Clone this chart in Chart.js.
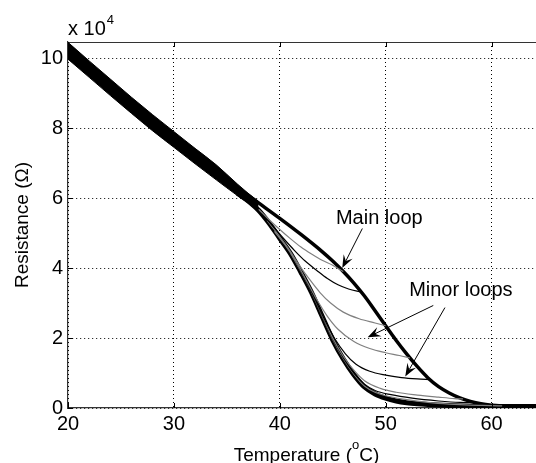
<!DOCTYPE html>
<html><head><meta charset="utf-8">
<script src="https://cdn.jsdelivr.net/npm/chart.js@4/dist/chart.umd.min.js"></script>
<style>html,body{margin:0;padding:0;background:#fff;overflow:hidden}</style>
</head><body>
<canvas id="c" width="536" height="463" style="width:536px;height:463px;display:block"></canvas>
<script>
// ---- tick labels ----
const xTicks = [20, 30, 40, 50, 60];
const yTicks = [0, 2, 4, 6, 8, 10];           // resistance in units of 10^4 ohm
const xRange = [20, 64.2];
const yRange = [0, 10.46];

// ---- common thick band (many overlapping loops), outer edges ----
const bandT      = [20, 22, 24, 26, 28, 30, 32, 34, 36, 37, 38];
const bandTopR   = [10.45, 9.92, 9.4, 8.88, 8.38, 7.9, 7.42, 6.95, 6.4, 6.14, 5.9];
const bandBotR   = [9.97, 9.45, 8.93, 8.42, 7.92, 7.45, 6.98, 6.52, 6.07, 5.86, 5.6];

// ---- main loop: upper (cooling) branch ----
const upperT = [36, 37, 38, 40, 42, 44, 45, 46, 47, 48, 49, 50, 51, 52, 53, 54, 55, 56, 57, 58, 59, 60, 61, 62, 63, 64.2];
const upperR = [6.3, 6.08, 5.86, 5.42, 4.96, 4.47, 4.2, 3.9, 3.57, 3.2, 2.78, 2.35, 1.93, 1.54, 1.18, 0.86, 0.61, 0.43, 0.29, 0.19, 0.12, 0.08, 0.06, 0.05, 0.04, 0.04];
// ---- main loop: lower (heating) branch ----
const lowerT = [36, 37, 38, 39, 40, 41, 42, 43, 44, 45, 46, 47, 48, 49, 50, 51, 52, 53, 54, 56, 58, 60, 62, 64.2];
const lowerR = [6.14, 5.92, 5.65, 5.28, 4.85, 4.42, 3.88, 3.3, 2.62, 1.95, 1.4, 0.95, 0.6, 0.4, 0.28, 0.2, 0.15, 0.12, 0.1, 0.07, 0.05, 0.04, 0.04, 0.04];

// ---- minor loops ----
const minorAT = [38, 39, 40, 41, 42, 43, 44, 45, 46];
const minorAR = [5.68, 5.38, 5.1, 4.84, 4.6, 4.4, 4.22, 4.08, 3.9];
const minorBT = [38.4, 39.4, 40.4, 41.4, 42.4, 43.5, 44.5, 45.5, 46.5, 47.7];
const minorBR = [5.52, 5.18, 4.83, 4.5, 4.2, 3.93, 3.7, 3.52, 3.4, 3.31];
const minorCT = [38.8, 39.8, 40.8, 41.8, 42.8, 43.8, 44.8, 46, 47.5, 49, 50];
const minorCR = [5.36, 4.98, 4.56, 4.1, 3.68, 3.3, 3.0, 2.74, 2.55, 2.43, 2.35];
const minorDT = [39.5, 40.5, 41.5, 42.5, 43.5, 44.5, 45.5, 47, 48.5, 50, 51.3, 52.3];
const minorDR = [5.05, 4.66, 4.2, 3.65, 3.1, 2.62, 2.25, 1.9, 1.7, 1.58, 1.5, 1.43];
const minorET = [40.2, 41.2, 42.2, 43.2, 44.2, 45.2, 46.2, 47.2, 48.5, 50, 51.5, 53, 54.2];
const minorER = [4.77, 4.36, 3.8, 3.2, 2.55, 1.98, 1.55, 1.25, 1.05, 0.94, 0.87, 0.83, 0.81];
const minorFT = [41, 42, 43, 44, 45, 46, 47, 48, 49.5, 51, 53, 55, 56.5, 57.3];
const minorFR = [4.44, 3.9, 3.32, 2.66, 2.0, 1.48, 1.08, 0.78, 0.56, 0.45, 0.37, 0.31, 0.27, 0.26];
const minorGT = [42, 43, 44, 45, 46, 47, 48, 49, 50.5, 52.5, 55, 57, 58.5];
const minorGR = [3.9, 3.32, 2.64, 1.98, 1.44, 1.0, 0.68, 0.5, 0.38, 0.28, 0.2, 0.16, 0.155];
const minorHT = [43, 44, 45, 46, 47, 48, 49, 50, 52, 54, 56, 58, 60, 61];
const minorHR = [3.31, 2.63, 1.96, 1.41, 0.97, 0.63, 0.45, 0.35, 0.24, 0.16, 0.11, 0.08, 0.07, 0.06];

// ---- annotation anchors (data coordinates) ----
const labelMain  = {text: 'Main loop',   T: 49.4, R: 5.41};
const labelMinor = {text: 'Minor loops', T: 57.1, R: 3.36};
const arrowMain  = {from: [47.8, 5.13], to: [45.9, 4.0]};
const arrowMinor1 = {from: [54.5, 2.93], to: [48.3, 2.02]};
const arrowMinor2 = {from: [55.6, 2.87], to: [51.85, 0.9]};

const pts = (T, R) => T.map((t, i) => ({x: t, y: R[i]}));
const GRAY = '#808080', BLACK = '#000000';
const FONT = '"Liberation Sans", Arial, Helvetica, sans-serif';

function thin(T, R, color) {
  return {data: pts(T, R), borderColor: color, borderWidth: 1.2, pointRadius: 0,
          fill: false, cubicInterpolationMode: 'monotone'};
}

const datasets = [
  {data: pts(bandT, bandTopR), borderColor: BLACK, backgroundColor: BLACK, borderWidth: 1,
   pointRadius: 0, fill: '+1', cubicInterpolationMode: 'monotone'},
  {data: pts(bandT, bandBotR), borderColor: BLACK, borderWidth: 1, pointRadius: 0,
   fill: false, cubicInterpolationMode: 'monotone'},
  thin(minorAT, minorAR, GRAY),
  thin(minorBT, minorBR, BLACK),
  thin(minorCT, minorCR, GRAY),
  thin(minorDT, minorDR, GRAY),
  thin(minorET, minorER, BLACK),
  thin(minorFT, minorFR, GRAY),
  thin(minorGT, minorGR, BLACK),
  thin(minorHT, minorHR, GRAY),
  {data: pts(upperT, upperR), borderColor: BLACK, borderWidth: 3.5, pointRadius: 0,
   fill: false, cubicInterpolationMode: 'monotone'},
  {data: pts(lowerT, lowerR), borderColor: BLACK, borderWidth: 5, pointRadius: 0,
   fill: false, cubicInterpolationMode: 'monotone'}
];

function drawArrow(ctx, x1, y1, x2, y2) {
  const ang = Math.atan2(y2 - y1, x2 - x1);
  const L = 13, W = 5, notch = 8;
  ctx.beginPath(); ctx.moveTo(x1, y1);
  ctx.lineTo(x2 - notch * Math.cos(ang), y2 - notch * Math.sin(ang)); ctx.stroke();
  const bx = x2 - L * Math.cos(ang), by = y2 - L * Math.sin(ang);
  const nx = -Math.sin(ang), ny = Math.cos(ang);
  ctx.beginPath();
  ctx.moveTo(x2, y2);
  ctx.lineTo(bx + nx * W, by + ny * W);
  ctx.lineTo(x2 - notch * Math.cos(ang), y2 - notch * Math.sin(ang));
  ctx.lineTo(bx - nx * W, by - ny * W);
  ctx.closePath(); ctx.fill();
}

const decor = {
  id: 'decor',
  afterDraw(chart) {
    const {ctx, chartArea: a, scales: {x, y}} = chart;
    ctx.save();
    // top border of the box
    ctx.strokeStyle = '#333'; ctx.lineWidth = 1.2;
    ctx.beginPath(); ctx.moveTo(a.left, a.top + 0.5); ctx.lineTo(a.right, a.top + 0.5); ctx.stroke();
    // inward ticks
    ctx.strokeStyle = '#000'; ctx.lineWidth = 1;
    xTicks.forEach(v => {
      const px = Math.round(x.getPixelForValue(v)) + 0.5;
      ctx.beginPath(); ctx.moveTo(px, a.bottom); ctx.lineTo(px, a.bottom - 5);
      ctx.moveTo(px, a.top); ctx.lineTo(px, a.top + 5); ctx.stroke();
    });
    yTicks.forEach(v => {
      const py = Math.round(y.getPixelForValue(v)) + 0.5;
      ctx.beginPath(); ctx.moveTo(a.left, py); ctx.lineTo(a.left + 5, py); ctx.stroke();
    });
    ctx.fillStyle = '#000';
    // exponent label
    ctx.textAlign = 'left'; ctx.textBaseline = 'alphabetic';
    ctx.font = '20px ' + FONT;
    ctx.fillText('x 10', a.left, a.top - 7);
    const w = ctx.measureText('x 10').width;
    ctx.font = '13px ' + FONT;
    ctx.fillText('4', a.left + w + 1, a.top - 18);
    // x axis title with superscript
    ctx.font = '19px ' + FONT;
    const p1 = 'Temperature (', p3 = 'C)';
    const w1 = ctx.measureText(p1).width, w3 = ctx.measureText(p3).width;
    ctx.font = '13px ' + FONT;
    const w2 = ctx.measureText('o').width;
    const cx = 306.5, total = w1 + w2 + w3;
    let sx = cx - total / 2;
    ctx.font = '19px ' + FONT; ctx.fillText(p1, sx, 461);
    ctx.font = '13px ' + FONT; ctx.fillText('o', sx + w1, 449);
    ctx.font = '19px ' + FONT; ctx.fillText(p3, sx + w1 + w2, 461);
    // y axis title
    ctx.save();
    ctx.translate(28, (a.top + a.bottom) / 2);
    ctx.rotate(-Math.PI / 2);
    ctx.textAlign = 'center';
    ctx.fillText('Resistance (\u03A9)', 0, 0);
    ctx.restore();
    // annotations
    ctx.font = '20px ' + FONT; ctx.textAlign = 'center'; ctx.textBaseline = 'middle';
    [labelMain, labelMinor].forEach(l => ctx.fillText(l.text, x.getPixelForValue(l.T), y.getPixelForValue(l.R)));
    ctx.lineWidth = 1; ctx.strokeStyle = '#000';
    [arrowMain, arrowMinor1, arrowMinor2].forEach(ar => drawArrow(ctx,
      x.getPixelForValue(ar.from[0]), y.getPixelForValue(ar.from[1]),
      x.getPixelForValue(ar.to[0]), y.getPixelForValue(ar.to[1])));
    ctx.restore();
  }
};

new Chart(document.getElementById('c'), {
  type: 'line',
  data: {datasets},
  options: {
    responsive: false, animation: false, devicePixelRatio: 1,
    layout: {padding: {top: 42, right: 0, left: 0, bottom: 0}},
    plugins: {legend: {display: false}, tooltip: {enabled: false}},
    scales: {
      x: {
        type: 'linear', min: xRange[0], max: xRange[1],
        afterBuildTicks: s => { s.ticks = xTicks.map(v => ({value: v})); },
        afterFit: s => { s.height = 55; },
        ticks: {color: '#000', font: {size: 20, family: FONT}, padding: 4, maxRotation: 0,
                callback: v => String(v)},
        grid: {color: '#000', lineWidth: 1, drawTicks: false},
        border: {display: true, color: '#333', width: 1.2, dash: [1, 3]}
      },
      y: {
        type: 'linear', min: yRange[0], max: yRange[1],
        afterBuildTicks: s => { s.ticks = yTicks.map(v => ({value: v})); },
        afterFit: s => { s.width = 68; },
        ticks: {color: '#000', font: {size: 20, family: FONT}, padding: 5,
                callback: v => String(v)},
        grid: {color: '#000', lineWidth: 1, drawTicks: false},
        border: {display: true, color: '#333', width: 1.2, dash: [1, 3]}
      }
    }
  },
  plugins: [decor]
});
</script>
</body></html>
